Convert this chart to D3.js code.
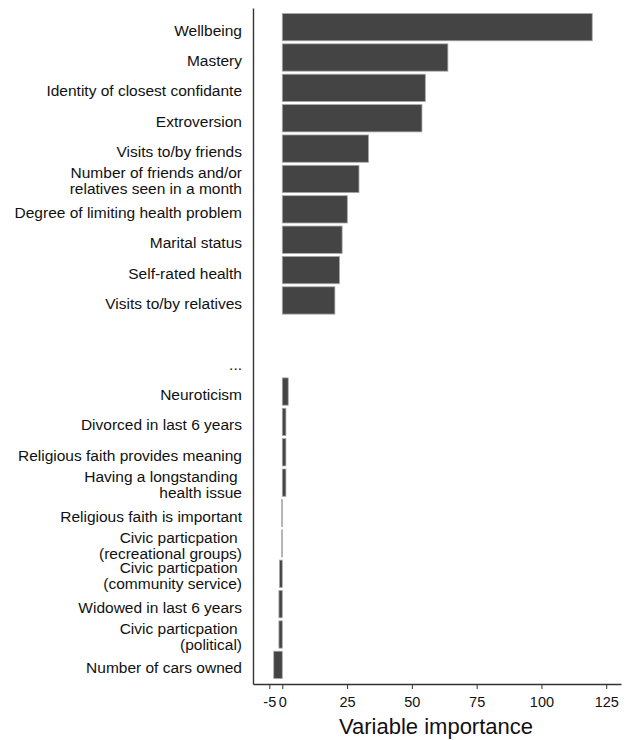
<!DOCTYPE html>
<html>
<head>
<meta charset="utf-8">
<script src="https://cdn.jsdelivr.net/npm/d3@7"></script>
<style>
  body { margin: 0; background: #fff; }
  svg text { font-family: "Liberation Sans", Arial, sans-serif; fill: #111; }
</style>
</head>
<body>
<div id="chart"></div>
<script>

// data
const topLabels = [
	"Wellbeing",
	"Mastery",
	"Identity of closest confidante",
	"Extroversion",
	"Visits to/by friends",
	"Number of friends and/or\nrelatives seen in a month",
	"Degree of limiting health problem",
	"Marital status",
	"Self-rated health",
	"Visits to/by relatives"
];
const topValues = [119.6, 63.9, 55.2, 53.9, 33.3, 29.6, 25.1, 23.1, 22.1, 20.3];

const bottomLabels = [
	"Neuroticism",
	"Divorced in last 6 years",
	"Religious faith provides meaning",
	"Having a longstanding\u00a0\nhealth issue",
	"Religious faith is important",
	"Civic particpation\u00a0\n(recreational groups)",
	"Civic particpation\u00a0\n(community service)",
	"Widowed in last 6 years",
	"Civic particpation\u00a0\n(political)",
	"Number of cars owned"
];
const bottomValues = [2.3, 1.4, 1.4, 1.4, -0.2, -0.2, -1.1, -1.3, -1.3, -3.3];

const gapLabels = ["", "..."];
const xTicks = [-5, 0, 25, 50, 75, 100, 125];

// rows: top block, a blank row, the ellipsis row, bottom block
const rows = [];
topLabels.forEach((l, i) => rows.push({ label: l, value: topValues[i] }));
gapLabels.forEach(l => rows.push({ label: l, value: null }));
bottomLabels.forEach((l, i) => rows.push({ label: l, value: bottomValues[i] }));
rows.forEach((r, i) => r.key = i);

const width = 629, height = 740;
const axisLeftX = 253, axisBottomY = 684;

const svg = d3.select("#chart")
	.append("svg")
	.attr("width", width)
	.attr("height", height);

const xScale = d3.scaleLinear()
	.domain([-11.3, 130.7])
	.range([axisLeftX, 621]);

const yScale = d3.scaleBand()
	.domain(rows.map(d => d.key))
	.range([8, axisBottomY])
	.paddingInner(0.1)
	.paddingOuter(0.18);

// bars
svg.append("g")
	.selectAll("rect")
	.data(rows.filter(d => d.value !== null))
	.join("rect")
	.attr("x", d => xScale(Math.min(0, d.value)))
	.attr("width", d => Math.abs(xScale(d.value) - xScale(0)))
	.attr("y", d => yScale(d.key))
	.attr("height", yScale.bandwidth())
	.attr("fill", "#444")
	.attr("stroke", "#aaa")
	.attr("stroke-width", 0.8);

// y axis (line only, labels drawn below)
const yAxis = d3.axisLeft(yScale).tickSize(0).tickSizeOuter(0).tickFormat("");
const yG = svg.append("g")
	.attr("transform", `translate(${axisLeftX},0)`)
	.call(yAxis);
yG.select(".domain").attr("stroke", "#333").attr("stroke-width", 1.4);

const labels = svg.append("g")
	.selectAll("text")
	.data(rows)
	.join("text")
	.attr("x", 242)
	.attr("text-anchor", "end")
	.attr("font-size", "15.5px")
	.style("white-space", "pre")
	.attr("fill", d => d.label === "..." ? "#999" : "#111");

labels.each(function(d) {
	const lines = d.label.split("\n");
	const c = yScale(d.key) + yScale.bandwidth() / 2;
	const base = lines.length > 1 ? c - 0.5 : c + 8.5;
	d3.select(this).selectAll("tspan")
		.data(lines)
		.join("tspan")
		.attr("x", 242)
		.attr("y", (l, i) => base + i * 16)
		.text(l => l);
});

// x axis
const xAxis = d3.axisBottom(xScale)
	.tickValues(xTicks)
	.tickFormat(d => String(d))
	.tickSize(5)
	.tickSizeOuter(0)
	.tickPadding(8);

const xG = svg.append("g")
	.attr("transform", `translate(0,${axisBottomY})`)
	.call(xAxis);
xG.select(".domain").attr("stroke", "#333").attr("stroke-width", 1.4);
xG.selectAll(".tick line").attr("stroke", "#333");
xG.selectAll(".tick text")
	.attr("font-size", "14.5px")
	.attr("font-family", "Liberation Sans, Arial, sans-serif")
	.attr("fill", "#111");

svg.append("text")
	.attr("x", 436)
	.attr("y", 734)
	.attr("text-anchor", "middle")
	.attr("font-size", "22px")
	.text("Variable importance");

</script>
</body>
</html>
